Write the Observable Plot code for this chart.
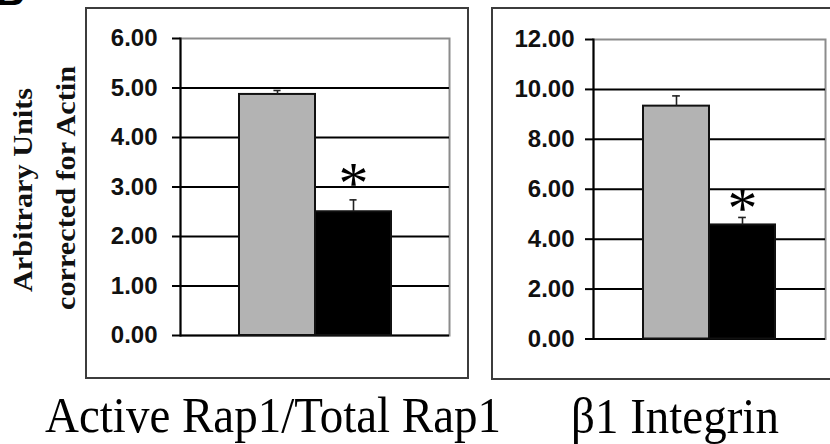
<!DOCTYPE html>
<html><head><meta charset="utf-8">
<script src="https://cdn.jsdelivr.net/npm/d3@7"></script>
<script src="https://cdn.jsdelivr.net/npm/@observablehq/plot@0.6"></script>
<style>
html,body{margin:0;padding:0;background:#fff;}
#wrap{position:relative;width:830px;height:444px;overflow:hidden;background:#fff;}
.box{position:absolute;border:2px solid #3c3c3c;box-sizing:border-box;}
.panel{position:absolute;}
.panel svg{overflow:visible;background:transparent;display:block;}
#overlay{position:absolute;left:0;top:0;}
</style></head><body>
<div id="wrap"></div>
<script>
// ---- data ----
const groups = ["Control", "Treated"];
const barColors = ["#b3b3b3", "#000000"];
const rap1Means = [4.87, 2.50];
const rap1Errors = [0.08, 0.24];
const rap1Stars = [null, 3.27];
const rap1Ticks = [0, 1, 2, 3, 4, 5, 6];
const integrinMeans = [9.33, 4.57];
const integrinErrors = [0.41, 0.30];
const integrinStars = [null, 5.6];
const integrinTicks = [0, 2, 4, 6, 8, 10, 12];
const panelTitles = ["Active Rap1/Total Rap1", "β1 Integrin"];
const yTitleLines = ["Arbitrary Units", "corrected for Actin"];
const panelLetter = "B";

const serif = "'Liberation Serif', 'Times New Roman', Times, serif";
const sans = "'Liberation Sans', Arial, Helvetica, sans-serif";

const wrap = d3.select("#wrap");

function panel(means, errors, stars, ticks, L) {
  const rows = groups.map((g, i) => ({group: g, value: means[i], top: means[i] + errors[i], star: stars[i], color: barColors[i]}));
  const maxT = d3.max(ticks);
  const plotW = L.width - L.ml - L.mr;
  const step = plotW / (groups.length + 2 * 0.75);
  const capInset = (step - 8) / 2;
  return Plot.plot({
    width: L.width, height: L.height,
    marginLeft: L.ml, marginRight: L.mr, marginTop: L.mt, marginBottom: L.mb,
    x: {domain: groups, paddingInner: 0, paddingOuter: 0.75, axis: null},
    y: {domain: [0, maxT], axis: null, label: null},
    color: {type: "identity"},
    style: {background: "transparent", overflow: "visible"},
    marks: [
      Plot.frame({stroke: "#8c8c8c", strokeWidth: 2}),
      Plot.ruleY(ticks.filter(t => t < maxT), {stroke: "#000", strokeWidth: 2}),
      Plot.barY(rows, {x: "group", y: "value", fill: "color", stroke: "#111", strokeWidth: 2}),
      Plot.ruleX(rows, {x: "group", y1: "value", y2: "top", stroke: "#222", strokeWidth: 1.6}),
      Plot.tickY(rows, {x: "group", y: "top", stroke: "#222", strokeWidth: 1.6, insetLeft: capInset, insetRight: capInset}),
      Plot.text(rows.filter(d => d.star != null), {x: "group", y: "star", text: () => "*", fontSize: 60, fontFamily: serif, fill: "#000", dy: 10}),
      Plot.frame({anchor: "left", stroke: "#000", strokeWidth: 2}),
      Plot.axisY({ticks, tickSize: L.ts, tickPadding: L.tp, tickFormat: d3.format(".2f"), fontSize: 24, fontWeight: "bold", fontFamily: sans, strokeWidth: 2, fill: "#111", label: null})
    ]
  });
}

const L1 = {left: 86, top: 8, width: 382, height: 370, ml: 94, mr: 19, mt: 30, mb: 43, ts: 8, tp: 15};
const L2 = {left: 492, top: 8, width: 338, height: 371, ml: 101, mr: 5, mt: 31, mb: 40.5, ts: 8, tp: 11};

// outer boxes
wrap.append("div").attr("class", "box").style("left", "85px").style("top", "7px").style("width", "384px").style("height", "372px");
wrap.append("div").attr("class", "box").style("left", "491px").style("top", "7px").style("width", "400px").style("height", "373px");

[[rap1Means, rap1Errors, rap1Stars, rap1Ticks, L1], [integrinMeans, integrinErrors, integrinStars, integrinTicks, L2]].forEach(([m, e, s, t, L]) => {
  const div = wrap.append("div").attr("class", "panel").style("left", L.left + "px").style("top", L.top + "px");
  div.node().appendChild(panel(m, e, s, t, L));
});

// text overlay
const ov = wrap.append("svg").attr("id", "overlay").attr("width", 830).attr("height", 444);
ov.append("text").attr("x", -4).attr("y", 5).attr("font-family", sans).attr("font-weight", "bold").attr("font-size", 40).text(panelLetter);
const yt = ov.append("g").attr("font-family", serif).attr("font-weight", "bold").attr("font-size", 27).attr("text-anchor", "middle").attr("fill", "#111");
[[32, 190], [75, 188]].forEach(([x, y], i) => yt.append("text").attr("transform", `translate(${x},${y}) rotate(-90) scale(1.12,1)`).text(yTitleLines[i]));
const bt = ov.append("g").attr("font-family", serif).attr("font-size", 47).attr("fill", "#000");
[[45, 432], [571, 433]].forEach(([x, y], i) => bt.append("text").attr("transform", `translate(${x},${y}) scale(1,1.1)`).text(panelTitles[i]));
</script>
</body></html>
